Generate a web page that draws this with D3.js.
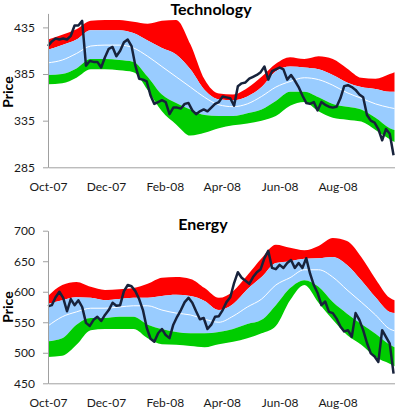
<!DOCTYPE html>
<html>
<head>
<meta charset="utf-8">
<script src="https://cdn.jsdelivr.net/npm/d3@7"></script>
<style>
  body { margin: 0; background: #fff; }
  svg { display: block; }
  text { font-family: Lato, "Open Sans", sans-serif; }
</style>
</head>
<body>
<svg id="chart" width="400" height="413"></svg>
<script>
// days are counted from 1 Oct 2007
const startDate = new Date(2007, 9, 1);
const endDate = new Date(2008, 8, 30);
const tickDates = ["2007-10-01", "2007-12-01", "2008-02-01", "2008-04-01", "2008-06-01", "2008-08-01"];

const priceDays = [0, 4, 8, 12, 16, 20, 24, 28, 32, 36,
  40, 44, 48, 52, 56, 60, 64, 68, 72, 76,
  80, 84, 88, 92, 96, 100, 104, 108, 112, 116,
  120, 124, 128, 132, 136, 140, 144, 148, 152, 156,
  160, 164, 168, 172, 176, 180, 184, 188, 192, 196,
  200, 204, 208, 212, 216, 220, 224, 228, 232, 236,
  240, 244, 248, 252, 256, 260, 264, 268, 272, 276,
  280, 284, 288, 292, 296, 300, 304, 308, 312, 316,
  320, 324, 328, 332, 336, 340, 344, 348, 352, 356,
  360, 364];

const bandDays = [0, 15, 30, 45, 60, 75, 90, 105, 120, 135, 150, 165, 180,
  195, 210, 225, 240, 255, 270, 285, 300, 315, 330, 345, 360, 365];

// Technology
const techPrice = [415, 420, 423, 422, 423, 422, 426, 437, 437, 442,
  394, 399, 398, 398, 392, 403, 412, 414, 404, 410,
  419, 422, 415, 394, 380, 379, 377, 362, 353, 355,
  357, 355, 342, 349, 349, 348, 353, 354, 346, 342,
  345, 347, 345, 349, 353, 355, 361, 360, 359, 351,
  372, 375, 376, 380, 382, 384, 387, 393, 379, 388,
  390, 392, 390, 379, 384, 378, 371, 362, 354, 353,
  355, 346, 355, 352, 350, 349, 350, 359, 372, 373,
  371, 368, 363, 360, 341, 335, 333, 326, 314, 326,
  321, 298];
const techTop = [422, 427, 433, 442, 443, 443, 441, 439, 442, 443, 417, 379, 364,
  363, 370, 382, 396, 403, 401, 404, 401, 391, 381, 380, 385, 387];
const techUpper = [411, 416, 422, 432, 432, 432, 429, 421, 413, 406, 390, 368, 358,
  357, 361, 371, 388, 393, 392, 390, 384, 376, 371, 369, 366, 366];
const techMid = [397, 400, 407, 415, 416, 416, 413, 404, 393, 382, 371, 360, 352,
  350, 353, 361, 371, 377, 381, 379, 373, 365, 359, 353, 349, 348];
const techLower = [384, 385, 391, 401, 401, 400, 398, 382, 363, 354, 347, 341, 340,
  340, 343, 347, 356, 366, 366, 360, 353, 350, 347, 338, 327, 325];
const techBottom = [374, 375, 381, 390, 390, 389, 387, 368, 345, 331, 319, 322, 327,
  330, 332, 335, 340, 351, 355, 345, 338, 336, 334, 325, 315, 312];
const techTicks = [285, 335, 385, 435];

// Energy
const energyPrice = [576, 578, 591, 600, 590, 568, 588, 578, 586, 575,
  549, 544, 554, 559, 552, 562, 570, 582, 577, 578,
  601, 611, 609, 601, 588, 570, 541, 523, 518, 532,
  539, 529, 524, 546, 559, 570, 583, 590, 582, 568,
  555, 557, 539, 546, 559, 560, 570, 583, 591, 614,
  632, 623, 618, 613, 624, 632, 637, 655, 667, 639,
  637, 644, 639, 647, 652, 639, 647, 639, 655, 630,
  611, 598, 578, 584, 567, 565, 556, 543, 535, 537,
  526, 565, 554, 537, 516, 499, 494, 485, 537, 526,
  515, 466];
const energyTop = [593, 611, 616, 608, 603, 604, 606, 613, 623, 624, 621, 606, 590,
  601, 627, 655, 677, 672, 668, 675, 688, 683, 657, 621, 590, 586];
const energyUpper = [580, 586, 591, 590, 586, 588, 590, 590, 593, 595, 593, 585, 570,
  580, 604, 624, 647, 650, 654, 655, 657, 644, 619, 591, 567, 565];
const energyMid = [544, 559, 567, 573, 573, 575, 577, 577, 570, 565, 562, 555, 550,
  560, 575, 588, 611, 623, 636, 636, 624, 603, 583, 562, 539, 536];
const energyLower = [519, 524, 546, 557, 557, 559, 559, 546, 539, 534, 532, 532, 534,
  539, 547, 554, 578, 606, 619, 608, 583, 564, 547, 531, 513, 509];
const energyBottom = [493, 495, 513, 537, 539, 539, 539, 524, 514, 513, 511, 509, 514,
  518, 524, 532, 544, 586, 611, 582, 554, 529, 513, 493, 482, 478];
const energyTicks = [450, 500, 550, 600, 650, 700];

const svg = d3.select("#chart");
const toDate = d => d3.timeDay.offset(startDate, d);

const x = d3.scaleTime()
    .domain([startDate, endDate])
    .range([48, 394.5]);

function drawPanel(p) {
    const g = svg.append("g");

    const y = d3.scaleLinear()
        .domain(p.domain)
        .range(p.range);

    const bands = bandDays.map((d, i) => ({
        date: toDate(d),
        top: p.top[i], upper: p.upper[i], mid: p.mid[i],
        lower: p.lower[i], bottom: p.bottom[i]
    }));
    const prices = priceDays.map((d, i) => ({date: toDate(d), value: p.price[i]}));

    // bands: red outer top, blue inner, green outer bottom
    const band = (k0, k1) => d3.area()
        .x(d => x(d.date))
        .y0(d => y(d[k0]))
        .y1(d => y(d[k1]))
        .curve(d3.curveMonotoneX);

    g.append("path").datum(bands).attr("fill", "#ff0000").attr("d", band("upper", "top"));
    g.append("path").datum(bands).attr("fill", "#99ccff").attr("d", band("lower", "upper"));
    g.append("path").datum(bands).attr("fill", "#00cc00").attr("d", band("bottom", "lower"));

    g.append("path")
        .datum(bands)
        .attr("fill", "none")
        .attr("stroke", "#fff")
        .attr("stroke-width", 1)
        .attr("d", d3.line().x(d => x(d.date)).y(d => y(d.mid)).curve(d3.curveMonotoneX));

    g.append("path")
        .datum(prices)
        .attr("fill", "none")
        .attr("stroke", "#17223b")
        .attr("stroke-width", 2.5)
        .attr("stroke-linejoin", "round")
        .attr("d", d3.line().x(d => x(d.date)).y(d => y(d.value)));

    // axes
    const yAxis = g.append("g")
        .attr("transform", "translate(48,0)")
        .call(d3.axisLeft(y).tickValues(p.ticks).tickSize(5).tickSizeOuter(0).tickPadding(8));

    const xAxis = g.append("g")
        .attr("transform", `translate(0,${p.range[0]})`)
        .call(d3.axisBottom(x)
            .tickValues(tickDates.map(s => d3.timeParse("%Y-%m-%d")(s)))
            .tickFormat(d3.timeFormat("%b-%y"))
            .tickSize(0)
            .tickPadding(15));

    [yAxis, xAxis].forEach(a => {
        a.select(".domain").attr("stroke", "#a0a0a0");
        a.selectAll(".tick line").attr("stroke", "#a0a0a0");
        a.selectAll("text").style("font-size", "12px").attr("fill", "#1a1a1a");
    });

    g.append("text")
        .attr("x", p.titleX)
        .attr("y", p.titleY)
        .attr("text-anchor", "middle")
        .style("font-size", "16px")
        .style("font-weight", "bold")
        .attr("fill", "#000")
        .text(p.title);

    g.append("text")
        .attr("transform", `translate(13,${p.labelY}) rotate(-90)`)
        .attr("text-anchor", "middle")
        .style("font-size", "14px")
        .style("font-weight", "bold")
        .attr("fill", "#000")
        .text("Price");
}

drawPanel({
    title: "Technology", titleX: 211, titleY: 14.5, labelY: 92,
    domain: [285, 450], range: [167.3, 13.4], ticks: techTicks,
    price: techPrice, top: techTop, upper: techUpper, mid: techMid,
    lower: techLower, bottom: techBottom
});

drawPanel({
    title: "Energy", titleX: 203, titleY: 229.5, labelY: 307,
    domain: [450, 700], range: [383.3, 230.7], ticks: energyTicks,
    price: energyPrice, top: energyTop, upper: energyUpper, mid: energyMid,
    lower: energyLower, bottom: energyBottom
});
</script>
</body>
</html>
